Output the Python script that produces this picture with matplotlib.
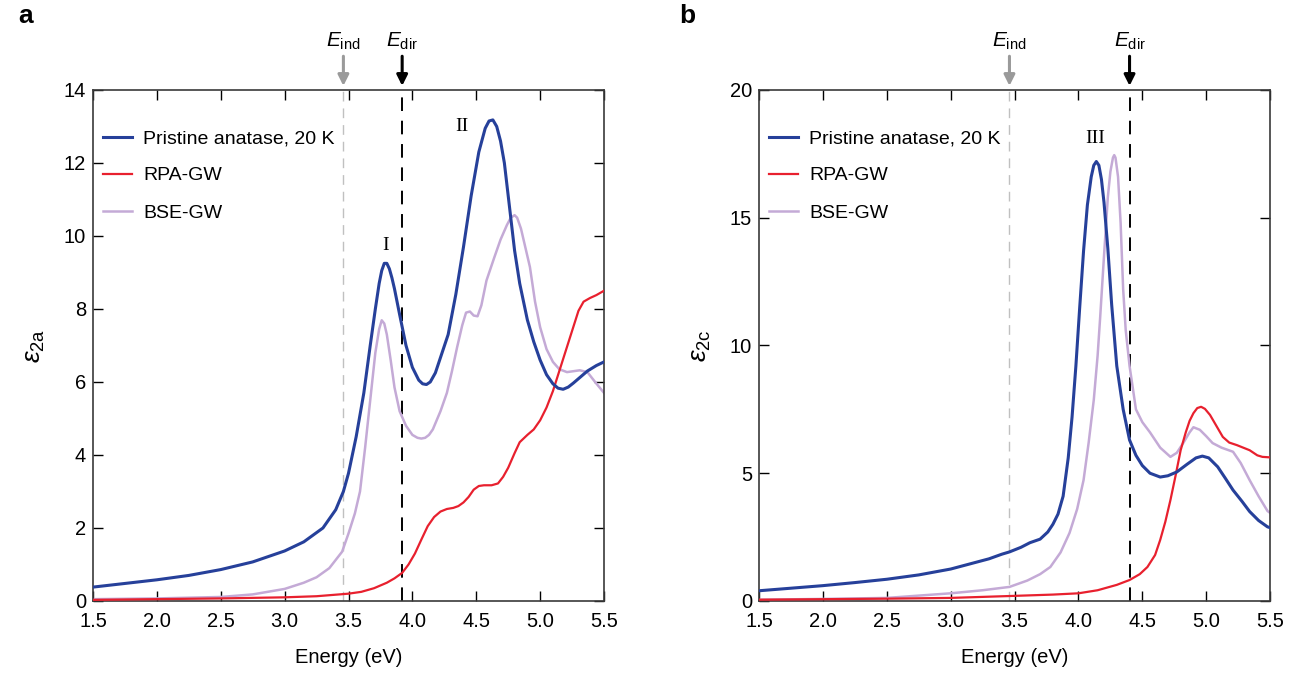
import matplotlib
matplotlib.use("Agg")
import matplotlib.pyplot as plt

plt.rcParams['font.family'] = ['Liberation Sans', 'DejaVu Sans']
plt.rcParams['mathtext.fontset'] = 'custom'
plt.rcParams['mathtext.rm'] = 'Liberation Sans'
plt.rcParams['mathtext.it'] = 'Liberation Sans:italic'

BLUE = '#26409a'
RED = '#e8202e'
PURPLE = '#c4aad6'

# panel a: epsilon_2a
blue_a_x = [1.5, 1.75, 2.0, 2.25, 2.5, 2.75, 3.0, 3.15, 3.3, 3.4, 3.46, 3.5, 3.56, 3.62, 3.67,
            3.71, 3.74, 3.76, 3.78, 3.8, 3.82, 3.84, 3.86, 3.9, 3.95, 4.0, 4.05, 4.08, 4.11,
            4.14, 4.18, 4.22, 4.28, 4.34, 4.4, 4.46, 4.52, 4.57, 4.6, 4.63, 4.66, 4.69, 4.72,
            4.76, 4.8, 4.84, 4.9, 4.95, 5.0, 5.05, 5.1, 5.14, 5.18, 5.22, 5.26, 5.32, 5.37,
            5.44, 5.5]
blue_a_y = [0.38, 0.48, 0.58, 0.7, 0.86, 1.07, 1.37, 1.62, 2.0, 2.5, 3.0, 3.5, 4.5, 5.7, 7.0,
            8.0, 8.7, 9.05, 9.25, 9.25, 9.1, 8.85, 8.55, 7.85, 7.0, 6.4, 6.05, 5.95, 5.93,
            6.0, 6.25, 6.67, 7.3, 8.4, 9.7, 11.1, 12.3, 12.95, 13.15, 13.18, 13.0, 12.6, 12.0,
            10.8, 9.6, 8.7, 7.7, 7.1, 6.6, 6.2, 5.95, 5.83, 5.8, 5.86, 5.97, 6.15, 6.3,
            6.45, 6.55]

red_a_x = [1.5, 2.0, 2.5, 3.0, 3.25, 3.5, 3.6, 3.7, 3.8, 3.86, 3.92, 3.97, 4.02, 4.07, 4.12,
           4.17, 4.22, 4.27, 4.32, 4.36, 4.4, 4.44, 4.48, 4.52, 4.56, 4.62, 4.67, 4.71, 4.75,
           4.8, 4.84, 4.9, 4.95, 5.0, 5.05, 5.1, 5.15, 5.2, 5.25, 5.3, 5.34, 5.39, 5.44, 5.5]
red_a_y = [0.03, 0.05, 0.07, 0.1, 0.13, 0.2, 0.25, 0.35, 0.5, 0.62, 0.77, 1.0, 1.3, 1.68, 2.05,
           2.3, 2.45, 2.52, 2.55, 2.6, 2.7, 2.85, 3.05, 3.15, 3.17, 3.17, 3.22, 3.4, 3.65,
           4.05, 4.35, 4.55, 4.7, 4.95, 5.3, 5.75, 6.3, 6.85, 7.4, 7.95, 8.2, 8.3, 8.38, 8.5]

bse_a_x = [1.5, 1.75, 2.0, 2.25, 2.5, 2.75, 3.0, 3.15, 3.25, 3.35, 3.45, 3.5, 3.55, 3.59, 3.63,
           3.67, 3.71, 3.74, 3.76, 3.78, 3.8, 3.83, 3.86, 3.9, 3.95, 4.0, 4.04, 4.07, 4.1,
           4.13, 4.16, 4.22, 4.27, 4.31, 4.35, 4.39, 4.42, 4.45, 4.48, 4.51, 4.54, 4.58, 4.64,
           4.69, 4.74, 4.77, 4.8, 4.82, 4.85, 4.88, 4.92, 4.96, 5.0, 5.05, 5.1, 5.15, 5.21,
           5.27, 5.31, 5.37, 5.43, 5.5]
bse_a_y = [0.05, 0.06, 0.07, 0.09, 0.11, 0.18, 0.33, 0.5, 0.65, 0.9, 1.35, 1.85, 2.4, 3.0, 4.2,
           5.5, 6.8, 7.45, 7.69, 7.6, 7.3, 6.6, 5.85, 5.2, 4.8, 4.55, 4.47, 4.45, 4.47,
           4.55, 4.7, 5.2, 5.7, 6.3, 6.95, 7.55, 7.9, 7.93, 7.82, 7.8, 8.1, 8.78, 9.4,
           9.9, 10.3, 10.5, 10.57, 10.5, 10.2, 9.75, 9.15, 8.2, 7.5, 6.9, 6.55, 6.35, 6.27,
           6.3, 6.32, 6.27, 6.0, 5.7]

# panel b: epsilon_2c
blue_c_x = [1.5, 1.75, 2.0, 2.25, 2.5, 2.75, 3.0, 3.15, 3.3, 3.4, 3.46, 3.55, 3.62, 3.7, 3.76,
            3.8, 3.84, 3.88, 3.92, 3.95, 3.98, 4.01, 4.04, 4.07, 4.1, 4.12, 4.14, 4.16, 4.18,
            4.2, 4.23, 4.26, 4.3, 4.35, 4.4, 4.45, 4.5, 4.56, 4.64, 4.7, 4.77, 4.85, 4.92,
            4.97, 5.02, 5.09, 5.15, 5.21, 5.28, 5.34, 5.41, 5.48, 5.5]
blue_c_y = [0.4, 0.5, 0.6, 0.72, 0.85, 1.02, 1.25, 1.45, 1.65, 1.83, 1.92, 2.1, 2.28, 2.42, 2.7,
            3.0, 3.4, 4.1, 5.6, 7.2, 9.2, 11.5, 13.7, 15.5, 16.6, 17.05, 17.2, 17.05, 16.5,
            15.6, 13.8, 11.6, 9.2, 7.5, 6.3, 5.7, 5.3, 5.0, 4.85, 4.9, 5.05, 5.35, 5.6,
            5.67, 5.6, 5.25, 4.8, 4.34, 3.9, 3.5, 3.15, 2.9, 2.87]

red_c_x = [1.5, 2.0, 2.5, 3.0, 3.5, 3.8, 4.0, 4.15, 4.3, 4.4, 4.48, 4.54, 4.6, 4.64, 4.68, 4.72,
           4.76, 4.8, 4.84, 4.87, 4.9, 4.93, 4.96, 4.99, 5.03, 5.08, 5.13, 5.18, 5.24, 5.3,
           5.34, 5.4, 5.44, 5.5]
red_c_y = [0.05, 0.07, 0.09, 0.12, 0.2, 0.25, 0.3, 0.42, 0.63, 0.82, 1.05, 1.33, 1.8, 2.39, 3.1,
           3.95, 4.9, 5.9, 6.6, 7.05, 7.35, 7.55, 7.6, 7.52, 7.28, 6.85, 6.42, 6.2, 6.1, 5.98,
           5.9, 5.7, 5.64, 5.62]

bse_c_x = [1.5, 2.0, 2.5, 3.0, 3.25, 3.46, 3.6, 3.7, 3.78, 3.86, 3.93, 3.99, 4.04, 4.08, 4.12,
           4.15, 4.17, 4.2, 4.23, 4.25, 4.27, 4.28, 4.29, 4.31, 4.33, 4.35, 4.37, 4.4, 4.45,
           4.5, 4.56, 4.64, 4.72, 4.77, 4.82, 4.87, 4.9, 4.95, 5.0, 5.05, 5.12, 5.21, 5.27,
           5.34, 5.41, 5.48, 5.5]
bse_c_y = [0.05, 0.08, 0.12, 0.3, 0.42, 0.55, 0.8, 1.05, 1.33, 1.9, 2.66, 3.6, 4.73, 6.2, 7.87,
           9.6, 11.1, 13.5, 15.8, 16.8, 17.35, 17.45, 17.35, 16.6, 14.8, 12.2, 10.6, 9.2, 7.5,
           7.0, 6.6, 6.0, 5.64, 5.8, 6.18, 6.6, 6.8, 6.7, 6.45, 6.18, 6.0, 5.84, 5.4,
           4.73, 4.1, 3.52, 3.45]

legend_labels = ['Pristine anatase, 20 K', 'RPA-GW', 'BSE-GW']
x_ticks = [1.5, 2.0, 2.5, 3.0, 3.5, 4.0, 4.5, 5.0, 5.5]


def draw_panel(ax, blue, red, bse, e_ind, e_dir, ymax, ystep, ylab, peaks):
    ax.axvline(e_ind, color='#c0c0c0', lw=1.0, ls=(0, (7, 5)), zorder=1)
    ax.axvline(e_dir, color='black', lw=1.4, ls=(0, (7, 5)), zorder=1)

    ax.plot(blue[0], blue[1], color=BLUE, lw=2.2, label=legend_labels[0], zorder=4)
    ax.plot(red[0], red[1], color=RED, lw=1.6, label=legend_labels[1], zorder=3)
    ax.plot(bse[0], bse[1], color=PURPLE, lw=1.8, label=legend_labels[2], zorder=2)

    ax.set_xlim(1.5, 5.5)
    ax.set_ylim(0, ymax)
    ax.set_xticks(x_ticks)
    ax.set_xticklabels(['%.1f' % t for t in x_ticks])
    ax.set_yticks(list(range(0, ymax + 1, ystep)))
    ax.tick_params(direction='in', top=True, right=True, length=7, width=1.0,
                   labelsize=14.5)
    ax.tick_params(axis='x', pad=8)
    ax.tick_params(axis='y', pad=5)
    for s in ax.spines.values():
        s.set_color('#3a3a3a')
        s.set_linewidth(1.2)

    ax.set_xlabel('Energy (eV)', fontsize=14.5, labelpad=12)
    ax.set_ylabel(ylab, fontsize=19, labelpad=12)

    ax.legend(loc='upper left', bbox_to_anchor=(0.02, 0.922), frameon=False,
              fontsize=14, handlelength=1.5, handletextpad=0.55,
              labelspacing=1.0, borderaxespad=0, borderpad=0)

    tr = ax.get_xaxis_transform()
    for e, col, sub in [(e_ind, '#9a9a9a', 'ind'), (e_dir, 'black', 'dir')]:
        ax.annotate('', xy=(e, 1.008), xycoords=tr, xytext=(e, 1.066), textcoords=tr,
                    arrowprops=dict(arrowstyle='-|>', color=col, lw=2.2, mutation_scale=16,
                                    shrinkA=0, shrinkB=0))
        ax.text(e, 1.075, r'$E_{\mathrm{' + sub + '}}$', transform=tr, ha='center',
                va='bottom', fontsize=15)

    for px, py, txt in peaks:
        ax.text(px, py, txt, ha='center', va='center', fontsize=14,
                family='Liberation Serif')


fig = plt.figure(figsize=(13.06, 6.77), dpi=100)
ax_a = fig.add_axes([0.0712, 0.1123, 0.3913, 0.7548])
ax_b = fig.add_axes([0.5812, 0.1123, 0.3913, 0.7548])

draw_panel(ax_a, (blue_a_x, blue_a_y), (red_a_x, red_a_y), (bse_a_x, bse_a_y),
           3.46, 3.92, 14, 2, r'$\varepsilon_{\mathrm{2a}}$',
           [(3.79, 9.75, 'I'), (4.39, 13.0, 'II')])
draw_panel(ax_b, (blue_c_x, blue_c_y), (red_c_x, red_c_y), (bse_c_x, bse_c_y),
           3.46, 4.40, 20, 5, r'$\varepsilon_{\mathrm{2c}}$',
           [(4.13, 18.1, 'III')])

fig.text(0.014, 0.977, 'a', fontsize=19, fontweight='bold', va='center')
fig.text(0.52, 0.977, 'b', fontsize=19, fontweight='bold', va='center')

fig.savefig('out.png', dpi=100)
